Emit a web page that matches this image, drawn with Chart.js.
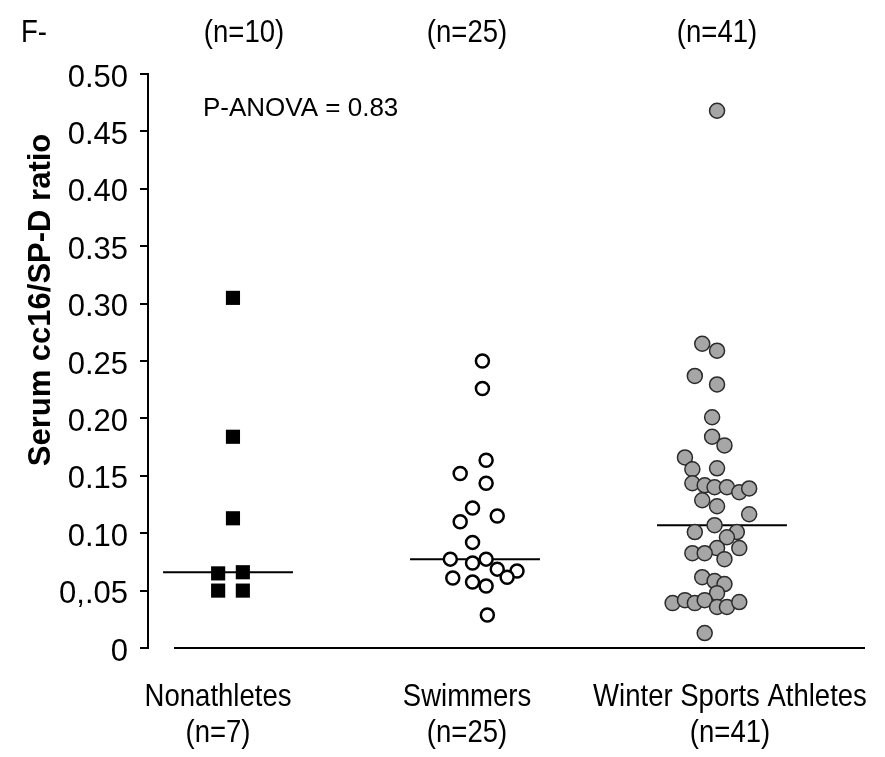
<!DOCTYPE html>
<html>
<head>
<meta charset="utf-8">
<script src="https://cdn.jsdelivr.net/npm/chart.js@4.4.0/dist/chart.umd.min.js"></script>
<style>
  html, body { margin: 0; padding: 0; background: #ffffff; }
  #wrap { width: 885px; height: 757px; }
</style>
</head>
<body>
<div id="wrap"><canvas id="chart" width="885" height="757"></canvas></div>
<script>
// categories and counts
const groups = ['Nonathletes', 'Swimmers', 'Winter Sports Athletes'];
const groupCounts = ['(n=7)', '(n=25)', '(n=41)'];
const topCounts = ['(n=10)', '(n=25)', '(n=41)']; // labels of the panel above, cut off

const yTickValues = [0, 0.05, 0.10, 0.15, 0.20, 0.25, 0.30, 0.35, 0.40, 0.45, 0.50];
const yTickLabels = ['0', '0,.05', '0.10', '0.15', '0.20', '0.25', '0.30', '0.35', '0.40', '0.45', '0.50'];

// x = group index + jitter, y = ratio
const nonathletesX = [0.02, 0.02, 0.02, -0.04, 0.06, -0.04, 0.06];
const nonathletesY = [0.305, 0.184, 0.113, 0.065, 0.066, 0.050, 0.050];

const swimmersX = [1.03, 1.03, 1.045, 0.94, 1.045, 0.99, 1.09, 0.94, 0.99, 0.90,
                   0.99, 1.045, 1.09, 1.17, 1.13, 0.91, 0.99, 1.045, 1.05];
const swimmersY = [0.250, 0.226, 0.1635, 0.152, 0.1435, 0.122, 0.115, 0.110, 0.092, 0.0774,
                   0.074, 0.0774, 0.0687, 0.067, 0.0617, 0.061, 0.0574, 0.054, 0.0287];

const winterX = [1.98, 1.92, 1.98, 1.89, 1.98, 1.96, 1.96, 2.01, 1.85, 1.88,
                 1.98, 1.88, 1.93, 1.97, 2.02, 2.07, 2.11, 1.92, 1.98, 2.11,
                 1.97, 1.89, 2.06, 2.02, 1.98, 2.07, 1.88, 1.93, 2.01, 1.92,
                 1.97, 2.01, 1.98, 1.80, 1.85, 1.89, 1.93, 1.98, 2.02, 2.07, 1.93];
const winterY = [0.468, 0.265, 0.259, 0.237, 0.2296, 0.201, 0.184, 0.1765, 0.166, 0.1557,
                 0.1565, 0.1435, 0.1417, 0.140, 0.140, 0.1357, 0.139, 0.1287, 0.1235, 0.1165,
                 0.107, 0.101, 0.101, 0.0965, 0.087, 0.087, 0.0826, 0.0826, 0.0774, 0.0617,
                 0.0583, 0.0557, 0.0478, 0.0391, 0.0417, 0.0391, 0.0417, 0.0357, 0.0357, 0.040, 0.013];

const medians = [0.066, 0.0774, 0.107];
const medianHalfWidth = 0.263;

function toPoints(xs, ys) {
    return xs.map((x, i) => ({ x: x, y: ys[i] }));
}

function medianLine(i) {
    return {
        type: 'line',
        data: [{ x: i - medianHalfWidth, y: medians[i] }, { x: i + medianHalfWidth, y: medians[i] }],
        borderColor: '#000000',
        borderWidth: 2,
        pointRadius: 0,
        fill: false
    };
}

function narrowText(ctx, text, x, y, size, align) {
    ctx.save();
    ctx.font = size + 'px "Liberation Sans", Arial, sans-serif';
    ctx.translate(x, y);
    ctx.scale(0.86, 1);
    ctx.textAlign = align;
    ctx.textBaseline = 'alphabetic';
    ctx.fillStyle = '#000000';
    ctx.fillText(text, 0, 0);
    ctx.restore();
}

const decorations = {
    id: 'decorations',
    afterDraw(chart) {
        const ctx = chart.ctx;
        const area = chart.chartArea;
        const xs = chart.scales.x;
        const ys = chart.scales.y;

        // x axis line, starts a bit right of the y axis
        const y0 = ys.getPixelForValue(0);
        ctx.save();
        ctx.strokeStyle = '#000000';
        ctx.lineWidth = 2;
        ctx.beginPath();
        ctx.moveTo(area.left + 26, y0);
        ctx.lineTo(area.right, y0);
        ctx.stroke();
        ctx.restore();

        // category labels under the axis
        const labelShift = [-10, -8, 8];
        groups.forEach((g, i) => {
            const cx = xs.getPixelForValue(i) + labelShift[i];
            narrowText(ctx, g, cx, 706, 32, 'center');
            narrowText(ctx, groupCounts[i], cx, 742, 32, 'center');
        });

        // cut off labels of the panel above
        const topShift = [16, -8, -5];
        narrowText(ctx, 'F-', 21, 42, 32, 'left');
        topCounts.forEach((t, i) => {
            narrowText(ctx, t, xs.getPixelForValue(i) + topShift[i], 42, 32, 'center');
        });

        // annotation
        ctx.save();
        ctx.font = '26px "Liberation Sans", Arial, sans-serif';
        ctx.fillStyle = '#000000';
        ctx.textAlign = 'left';
        ctx.textBaseline = 'alphabetic';
        ctx.fillText('P-ANOVA = 0.83', 203, 116);
        ctx.restore();

        // y axis title
        ctx.save();
        ctx.translate(50, 300);
        ctx.rotate(-Math.PI / 2);
        ctx.font = 'bold 31px "Liberation Sans", Arial, sans-serif';
        ctx.fillStyle = '#000000';
        ctx.textAlign = 'center';
        ctx.textBaseline = 'alphabetic';
        ctx.fillText('Serum cc16/SP-D ratio', 0, 0);
        ctx.restore();
    }
};

const ctx = document.getElementById('chart').getContext('2d');
new Chart(ctx, {
    data: {
        datasets: [
            {
                type: 'scatter',
                label: groups[0],
                data: toPoints(nonathletesX, nonathletesY),
                pointStyle: 'rect',
                pointRadius: 10,
                backgroundColor: '#000000',
                borderColor: '#000000',
                borderWidth: 0
            },
            {
                type: 'scatter',
                label: groups[1],
                data: toPoints(swimmersX, swimmersY),
                pointStyle: 'circle',
                pointRadius: 6.5,
                backgroundColor: '#ffffff',
                borderColor: '#000000',
                borderWidth: 2.5
            },
            {
                type: 'scatter',
                label: groups[2],
                data: toPoints(winterX, winterY),
                pointStyle: 'circle',
                pointRadius: 7.5,
                backgroundColor: '#a6a6a6',
                borderColor: '#2b2b2b',
                borderWidth: 1.5
            },
            medianLine(0),
            medianLine(1),
            medianLine(2)
        ]
    },
    options: {
        responsive: false,
        animation: false,
        layout: { padding: { top: 74, bottom: 109, left: 0, right: 20 } },
        plugins: {
            legend: { display: false },
            tooltip: { enabled: false }
        },
        scales: {
            x: {
                type: 'linear',
                display: false,
                min: -0.324,
                max: 2.579
            },
            y: {
                type: 'linear',
                min: 0,
                max: 0.5,
                afterFit(scale) { scale.width = 148; },
                afterBuildTicks(scale) {
                    scale.ticks = yTickValues.map(v => ({ value: v }));
                },
                border: { display: true, color: '#000000', width: 2 },
                grid: {
                    drawOnChartArea: false,
                    drawTicks: true,
                    tickLength: 8,
                    color: '#000000',
                    lineWidth: 2
                },
                ticks: {
                    color: '#000000',
                    padding: 12,
                    labelOffset: 4,
                    font: { family: '"Liberation Sans", Arial, sans-serif', size: 31 },
                    callback: function(value, index) { return yTickLabels[index]; }
                }
            }
        }
    },
    plugins: [decorations]
});
</script>
</body>
</html>
